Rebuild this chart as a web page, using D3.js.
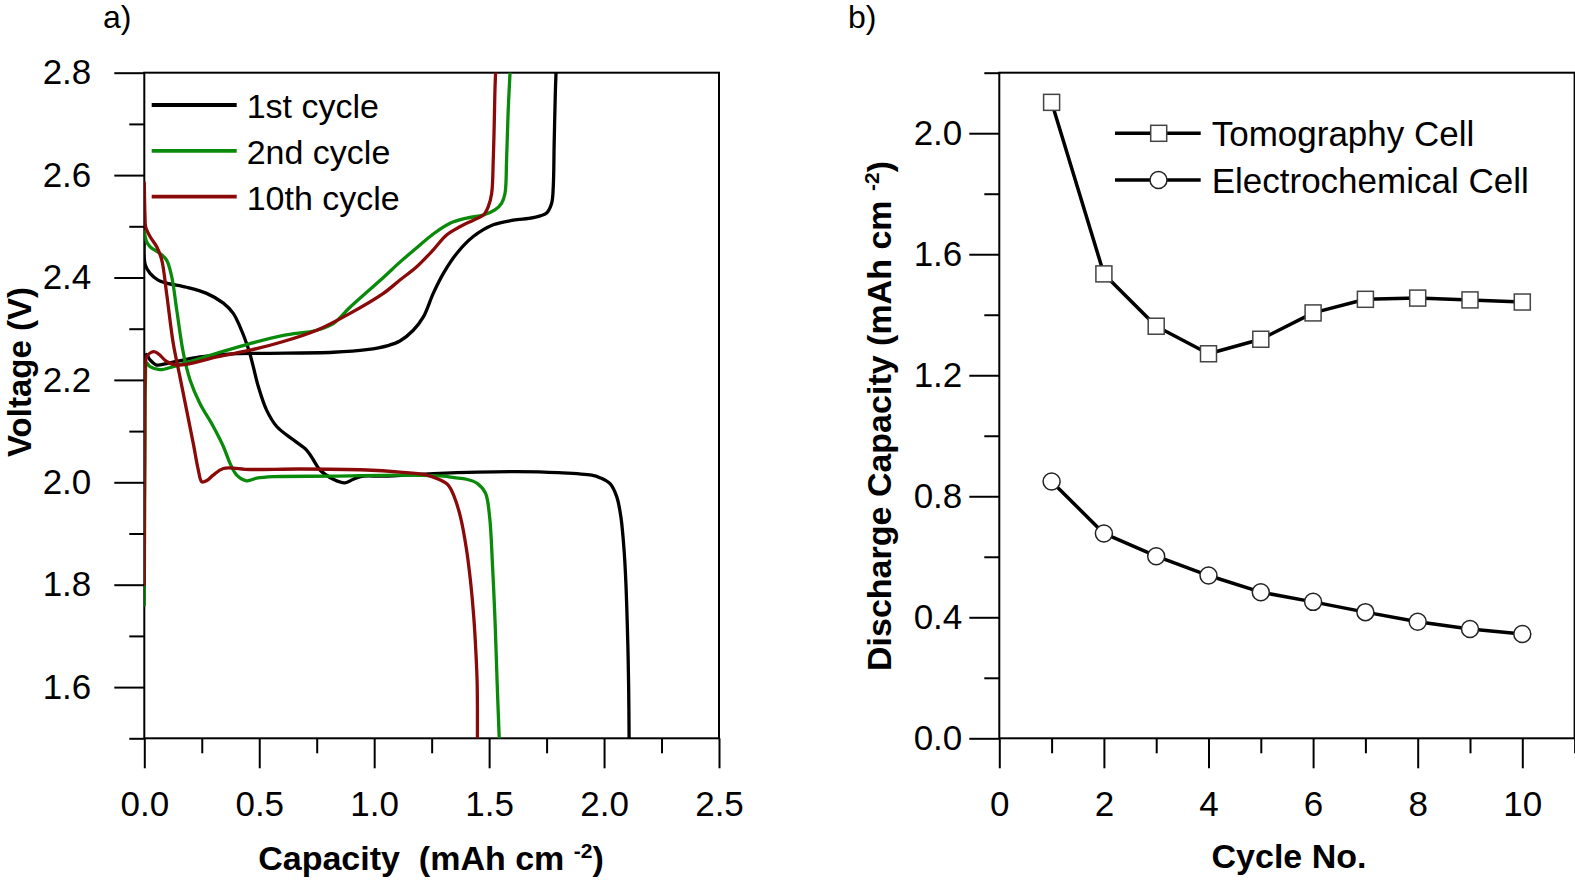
<!DOCTYPE html>
<html>
<head>
<meta charset="utf-8">
<script src="https://cdn.jsdelivr.net/npm/d3@7/dist/d3.min.js"></script>
<style>
  html, body { margin: 0; padding: 0; background: #fff; }
  svg { display: block; }
  text { font-family: "Liberation Sans", Arial, Helvetica, sans-serif; }
</style>
</head>
<body>
<svg id="chart" width="1575" height="881"></svg>
<script>
// ---------------- DATA ----------------
// Panel a) voltage profiles: [capacity (mAh cm-2), voltage (V)]
const cycle1Discharge = [[0.000,2.475],[0.004,2.425],[0.025,2.408],[0.060,2.395],[0.097,2.389],[0.184,2.381],[0.271,2.369],[0.344,2.350],[0.387,2.330],[0.416,2.304],[0.445,2.271],[0.460,2.250],[0.474,2.226],[0.496,2.187],[0.532,2.141],[0.576,2.109],[0.648,2.083],[0.706,2.063],[0.735,2.044],[0.764,2.024],[0.822,2.006],[0.873,1.999],[0.909,2.006],[0.952,2.012],[1.039,2.012],[1.257,2.017],[1.450,2.020],[1.620,2.021],[1.800,2.019],[1.946,2.014],[1.982,2.009],[2.027,1.997],[2.055,1.972],[2.073,1.933],[2.087,1.868],[2.095,1.803],[2.100,1.738],[2.104,1.672],[2.107,1.600],[2.109,1.500]];
const cycle1Charge = [[0.000,1.800],[0.001,2.100],[0.003,2.235],[0.010,2.250],[0.025,2.239],[0.054,2.229],[0.097,2.232],[0.242,2.245],[0.387,2.251],[0.532,2.252],[0.822,2.254],[0.967,2.259],[1.060,2.267],[1.112,2.276],[1.170,2.297],[1.214,2.323],[1.257,2.369],[1.301,2.408],[1.359,2.447],[1.431,2.480],[1.518,2.503],[1.605,2.512],[1.692,2.517],[1.750,2.526],[1.772,2.545],[1.779,2.577],[1.783,2.662],[1.788,2.760],[1.791,2.800]];
const cycle2Discharge = [[0.000,2.490],[0.010,2.470],[0.025,2.460],[0.068,2.447],[0.097,2.434],[0.119,2.402],[0.141,2.337],[0.170,2.252],[0.199,2.200],[0.242,2.154],[0.300,2.109],[0.344,2.070],[0.373,2.037],[0.402,2.014],[0.445,2.003],[0.489,2.008],[0.561,2.011],[0.822,2.012],[1.112,2.014],[1.300,2.012],[1.348,2.009],[1.402,2.006],[1.448,1.998],[1.484,1.979],[1.502,1.933],[1.515,1.835],[1.525,1.738],[1.535,1.607],[1.544,1.500]];
const cycle2Charge = [[0.000,1.760],[0.002,2.050],[0.005,2.200],[0.010,2.233],[0.025,2.226],[0.068,2.220],[0.126,2.226],[0.199,2.236],[0.315,2.252],[0.460,2.271],[0.605,2.287],[0.750,2.297],[0.822,2.310],[0.895,2.342],[1.040,2.400],[1.112,2.430],[1.185,2.458],[1.257,2.485],[1.330,2.506],[1.402,2.516],[1.475,2.522],[1.525,2.532],[1.554,2.545],[1.569,2.564],[1.576,2.630],[1.583,2.727],[1.591,2.800]];
const cycle10Discharge = [[0.000,2.585],[0.003,2.520],[0.006,2.499],[0.025,2.480],[0.054,2.460],[0.076,2.434],[0.097,2.369],[0.126,2.271],[0.155,2.206],[0.184,2.141],[0.213,2.076],[0.235,2.024],[0.250,2.001],[0.271,2.003],[0.300,2.014],[0.344,2.027],[0.460,2.025],[0.677,2.026],[0.967,2.024],[1.112,2.020],[1.221,2.015],[1.275,2.007],[1.321,1.995],[1.348,1.972],[1.375,1.933],[1.402,1.868],[1.420,1.803],[1.433,1.738],[1.442,1.672],[1.448,1.607],[1.449,1.500]];
const cycle10Charge = [[0.000,1.800],[0.002,2.100],[0.005,2.230],[0.010,2.245],[0.039,2.255],[0.061,2.251],[0.097,2.236],[0.141,2.229],[0.199,2.232],[0.315,2.245],[0.460,2.258],[0.605,2.275],[0.750,2.297],[0.895,2.330],[1.040,2.369],[1.112,2.395],[1.185,2.421],[1.257,2.454],[1.315,2.483],[1.373,2.499],[1.431,2.512],[1.475,2.522],[1.496,2.538],[1.511,2.564],[1.518,2.630],[1.522,2.695],[1.525,2.760],[1.528,2.800]];
const cycleNames = ["1st cycle", "2nd cycle", "10th cycle"];
const cycleColors = ["#000000", "#0a8a0a", "#8a0a0a"];

// Panel b) discharge capacity vs cycle number
const cycleNo = [1,2,3,4,5,6,7,8,9,10];
const tomographyCell = [2.102,1.535,1.362,1.271,1.319,1.406,1.451,1.455,1.449,1.442];
const electrochemicalCell = [0.849,0.677,0.602,0.538,0.483,0.451,0.417,0.385,0.361,0.345];
const seriesNames = ["Tomography Cell", "Electrochemical Cell"];

// Tick values
const aXMajor = [0, 0.5, 1.0, 1.5, 2.0, 2.5];
const aXMinor = [0.25, 0.75, 1.25, 1.75, 2.25];
const aYMajor = [1.6, 1.8, 2.0, 2.2, 2.4, 2.6, 2.8];
const aYMinor = [1.5, 1.7, 1.9, 2.1, 2.3, 2.5, 2.7];
const bXMajor = [0, 2, 4, 6, 8, 10];
const bXMinor = [1, 3, 5, 7, 9, 11];
const bYMajor = [0.0, 0.4, 0.8, 1.2, 1.6, 2.0];
const bYMinor = [0.2, 0.6, 1.0, 1.4, 1.8, 2.2];

// ---------------- DRAWING ----------------
const svg = d3.select("#chart");
const FONT = 35;

// Scales
const xA = d3.scaleLinear().domain([0, 2.5]).range([144.3, 719]);
const yA = d3.scaleLinear().domain([1.5, 2.8]).range([738.3, 72.7]);
const xB = d3.scaleLinear().domain([0, 11]).range([999.3, 1574.6]);
const yB = d3.scaleLinear().domain([0, 2.2]).range([738.3, 72.7]);

function styleAxis(g) {
  g.select(".domain").remove();
  g.selectAll(".tick line").attr("stroke", "#000").attr("stroke-width", 2);
  g.selectAll(".tick text").attr("fill", "#000")
    .style("font-family", '"Liberation Sans", Arial, sans-serif')
    .style("font-size", FONT + "px");
}

function drawAxes(x, y, xMaj, xMin, yMaj, yMin, yFmt, xFmt, yPad) {
  const [x0, x1] = x.range();
  const [yb, yt] = y.range();
  svg.append("g").attr("transform", `translate(0,${yb})`)
    .call(d3.axisBottom(x).tickValues(xMin).tickSize(15).tickSizeOuter(0).tickFormat(""))
    .call(styleAxis);
  svg.append("g").attr("transform", `translate(0,${yb})`)
    .call(d3.axisBottom(x).tickValues(xMaj).tickSize(30).tickSizeOuter(0).tickPadding(23).tickFormat(xFmt))
    .call(styleAxis);
  svg.append("g").attr("transform", `translate(${x0},0)`)
    .call(d3.axisLeft(y).tickValues(yMin).tickSize(15).tickSizeOuter(0).tickFormat(""))
    .call(styleAxis);
  svg.append("g").attr("transform", `translate(${x0},0)`)
    .call(d3.axisLeft(y).tickValues(yMaj).tickSize(30).tickSizeOuter(0).tickPadding(yPad).tickFormat(yFmt))
    .call(styleAxis);
  svg.append("rect")
    .attr("x", x0).attr("y", yt).attr("width", x1 - x0).attr("height", yb - yt)
    .attr("fill", "none").attr("stroke", "#000").attr("stroke-width", 2);
}

// ----- Panel a -----
drawAxes(xA, yA, aXMajor, aXMinor, aYMajor, aYMinor, d3.format(".1f"), d3.format(".1f"), 23);

svg.append("clipPath").attr("id", "clipA").append("rect")
  .attr("x", xA.range()[0]).attr("y", yA.range()[1])
  .attr("width", xA.range()[1] - xA.range()[0]).attr("height", yA.range()[0] - yA.range()[1]);

const lineA = d3.line().x(d => xA(d[0])).y(d => yA(d[1])).curve(d3.curveCatmullRom.alpha(0.5));
const curveSets = [
  [cycle1Discharge, cycle1Charge],
  [cycle2Discharge, cycle2Charge],
  [cycle10Discharge, cycle10Charge]
];
const gA = svg.append("g").attr("clip-path", "url(#clipA)");
curveSets.forEach((set, i) => {
  set.forEach(arr => {
    gA.append("path").datum(arr).attr("d", lineA)
      .attr("fill", "none").attr("stroke", cycleColors[i])
      .attr("stroke-width", 3.3).attr("stroke-linejoin", "round").attr("stroke-linecap", "round");
  });
});

// Legend a
const legA = svg.append("g");
cycleNames.forEach((name, i) => {
  const ly = 105 + i * 45.8;
  legA.append("line").attr("x1", 151.7).attr("x2", 236.7).attr("y1", ly).attr("y2", ly)
    .attr("stroke", cycleColors[i]).attr("stroke-width", 3.8);
  legA.append("text").attr("x", 246.7).attr("y", ly + 13)
    .style("font-size", "34px").attr("fill", "#000").text(name);
});

// Axis titles a
const tA = svg.append("text")
  .attr("x", 431).attr("y", 870).attr("text-anchor", "middle")
  .style("font-size", "34px").style("font-weight", "bold").style("white-space", "pre");
tA.append("tspan").text("Capacity  (mAh cm ");
tA.append("tspan").attr("dy", "-12").style("font-size", "21px").text("-2");
tA.append("tspan").attr("dy", "12").text(")");

svg.append("text")
  .attr("transform", "translate(31,372) rotate(-90)")
  .attr("text-anchor", "middle")
  .style("font-size", "33px").style("font-weight", "bold")
  .text("Voltage (V)");

svg.append("text").attr("x", 103).attr("y", 28)
  .style("font-size", "32px").text("a)");

// ----- Panel b -----
drawAxes(xB, yB, bXMajor, bXMinor, bYMajor, bYMinor, d3.format(".1f"), d3.format("d"), 7);

const lineB = d3.line().x((d, i) => xB(cycleNo[i])).y(d => yB(d));
const gB = svg.append("g");
[tomographyCell, electrochemicalCell].forEach(vals => {
  gB.append("path").datum(vals).attr("d", lineB)
    .attr("fill", "none").attr("stroke", "#000").attr("stroke-width", 3.5)
    .attr("stroke-linejoin", "round");
});
gB.selectAll(".sq").data(tomographyCell).enter().append("rect")
  .attr("x", (d, i) => xB(cycleNo[i]) - 8).attr("y", d => yB(d) - 8)
  .attr("width", 16).attr("height", 16)
  .attr("fill", "#fff").attr("stroke", "#444").attr("stroke-width", 1.5);
gB.selectAll(".ci").data(electrochemicalCell).enter().append("circle")
  .attr("cx", (d, i) => xB(cycleNo[i])).attr("cy", d => yB(d)).attr("r", 8.5)
  .attr("fill", "#fff").attr("stroke", "#222").attr("stroke-width", 1.5);

// Legend b
const legB = svg.append("g");
seriesNames.forEach((name, i) => {
  const ly = 133.3 + i * 46.7;
  legB.append("line").attr("x1", 1115).attr("x2", 1200.7).attr("y1", ly).attr("y2", ly)
    .attr("stroke", "#000").attr("stroke-width", 3.5);
  if (i === 0) {
    legB.append("rect").attr("x", 1150.7).attr("y", ly - 8).attr("width", 16).attr("height", 16)
      .attr("fill", "#fff").attr("stroke", "#444").attr("stroke-width", 1.5);
  } else {
    legB.append("circle").attr("cx", 1158.5).attr("cy", ly).attr("r", 8.5)
      .attr("fill", "#fff").attr("stroke", "#222").attr("stroke-width", 1.5);
  }
  legB.append("text").attr("x", 1211.7).attr("y", ly + 12.7)
    .style("font-size", "35px").attr("fill", "#000").text(name);
});

// Axis titles b
svg.append("text")
  .attr("x", 1289).attr("y", 868).attr("text-anchor", "middle")
  .style("font-size", "34px").style("font-weight", "bold")
  .text("Cycle No.");

const tB = svg.append("text")
  .attr("transform", "translate(891,416) rotate(-90)")
  .attr("text-anchor", "middle")
  .style("font-size", "34px").style("font-weight", "bold").style("white-space", "pre");
tB.append("tspan").text("Discharge Capacity (mAh cm ");
tB.append("tspan").attr("dy", "-12").style("font-size", "21px").text("-2");
tB.append("tspan").attr("dy", "12").text(")");

svg.append("text").attr("x", 848).attr("y", 28)
  .style("font-size", "32px").text("b)");
</script>
</body>
</html>
